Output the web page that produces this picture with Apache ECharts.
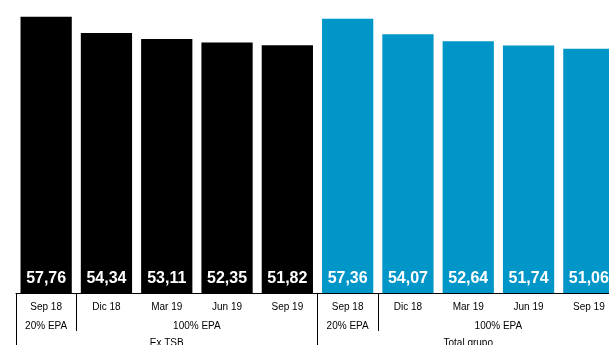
<!DOCTYPE html>
<html>
<head>
<meta charset="utf-8">
<script src="https://cdn.jsdelivr.net/npm/echarts@6/dist/echarts.min.js"></script>
<style>
html,body{margin:0;padding:0;background:#fff;}
#c{width:609px;height:345px;}
</style>
</head>
<body>
<div id="c"></div>
<script>
var categories = ['Sep 18','Dic 18','Mar 19','Jun 19','Sep 19','Sep 18','Dic 18','Mar 19','Jun 19','Sep 19'];
var exTsbValues = [57.76, 54.34, 53.11, 52.35, 51.82];
var totalValues = [57.36, 54.07, 52.64, 51.74, 51.06];
var epaLabels = ['20% EPA', '100% EPA', '20% EPA', '100% EPA'];
var epaBounds = [0, 1, 5, 6, 10];
var groupLabels = ['Ex TSB', 'Total grupo'];
var groupBounds = [0, 5, 10];

function mids(b) { var m = []; for (var i = 0; i < b.length - 1; i++) m.push((b[i] + b[i+1]) / 2); return m; }
var epaMids = mids(epaBounds);
var groupMids = mids(groupBounds);

var exData = exTsbValues.concat(totalValues.map(function(){return null;}));
var totData = exTsbValues.map(function(){return null;}).concat(totalValues);

var fmt = function(p){ return p.value == null ? '' : p.value.toFixed(2).replace('.', ','); };
var lbl = {show: true, position: 'insideBottom', distance: 6, color: '#fff', fontWeight: 'bold', fontSize: 16, fontFamily: 'Liberation Sans, Arial, sans-serif', formatter: fmt};
var txt = {color: '#000', fontSize: 10, fontFamily: 'Liberation Sans, Arial, sans-serif'};

var chart = echarts.init(document.getElementById('c'), null, {renderer: 'canvas'});
chart.setOption({
  animation: false,
  grid: {left: 16, right: -10, top: 6, bottom: 52, containLabel: false, outerBoundsMode: 'none'},
  xAxis: [
    {type: 'category', data: categories, position: 'bottom',
     axisLine: {show: true, lineStyle: {color: '#000', width: 1}},
     axisTick: {show: false},
     axisLabel: Object.assign({margin: 9, interval: 0}, txt)},
    {type: 'value', min: 0, max: 10, position: 'bottom', splitLine: {show: false},
     axisLine: {show: false},
     axisTick: {show: true, customValues: [epaBounds[1], epaBounds[3]], length: 38, lineStyle: {color: '#000', width: 1}},
     axisLabel: Object.assign({margin: 28, customValues: epaMids, formatter: function(v){ var i = epaMids.indexOf(v); return i >= 0 ? epaLabels[i] : ''; }}, txt)},
    {type: 'value', min: 0, max: 10, position: 'bottom', splitLine: {show: false},
     axisLine: {show: false},
     axisTick: {show: true, customValues: groupBounds, length: 60, lineStyle: {color: '#000', width: 1}},
     axisLabel: Object.assign({margin: 45, customValues: groupMids, formatter: function(v){ var i = groupMids.indexOf(v); return i >= 0 ? groupLabels[i] : ''; }}, txt)}
  ],
  yAxis: {type: 'value', min: 0, max: 60, show: false, splitLine: {show: false}},
  series: [
    {type: 'bar', xAxisIndex: 0, stack: 's', data: exData, barCategoryGap: '15%', itemStyle: {color: '#000'}, label: lbl},
    {type: 'bar', xAxisIndex: 0, stack: 's', data: totData, barCategoryGap: '15%', itemStyle: {color: '#0096c8'}, label: lbl}
  ]
});
</script>
</body>
</html>
